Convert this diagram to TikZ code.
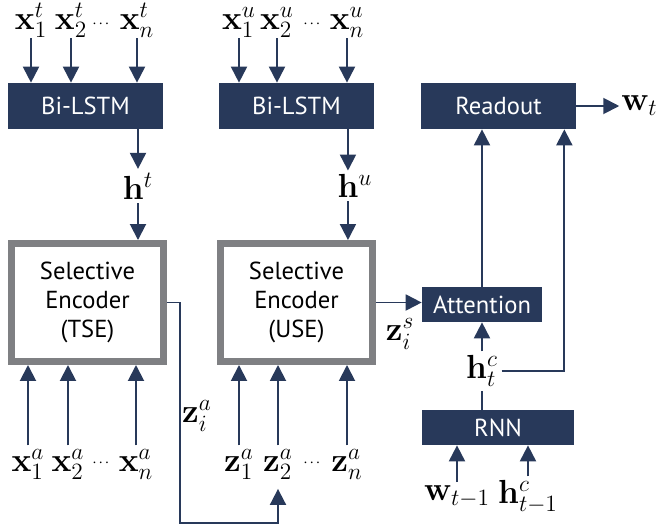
\RequirePackage{fix-cm}
\documentclass[tikz,border=0pt]{standalone}
\usepackage{amsmath}
\usepackage[no-math]{fontspec}
\setsansfont{PT Sans}
\usetikzlibrary{arrows.meta}

\definecolor{navy}{RGB}{40,57,90}
\definecolor{encgray}{RGB}{127,128,131}

\begin{document}
\begin{tikzpicture}[x=0.02cm,y=-0.02cm,
    block/.style={fill=navy,text=white,font=\sffamily\fontsize{14}{16}\selectfont,
      minimum width=3.1cm,minimum height=0.92cm,inner sep=0pt},
    enc/.style={draw=encgray,line width=0.14cm,fill=white,align=center,
      font=\sffamily\fontsize{14}{16.4}\selectfont,
      minimum width=3.04cm,minimum height=2.36cm,inner sep=0pt},
    lbl/.style={font=\fontsize{19}{22}\selectfont,inner sep=0pt},
    dots/.style={font=\fontsize{6}{7}\selectfont\boldmath,inner sep=0pt},
    arr/.style={draw=navy,line width=1.1pt,-{Triangle[length=0.32cm,width=0.32cm]}},
    ln/.style={draw=navy,line width=1.1pt}]
  \useasboundingbox (0,0) rectangle (656,525);

  \node[block] (bilT) at (85.5,106) {Bi-LSTM};
  \node[block] (bilU) at (296.5,106) {Bi-LSTM};
  \node[block] (readout) at (498.5,106) {Readout};
  \node[block,minimum width=2.4cm,minimum height=0.7cm] (attn) at (482,304.5) {Attention};
  \node[block,minimum width=3.04cm,minimum height=0.7cm] (rnn) at (498,427.5) {RNN};
  \node[enc] (tse) at (87.5,302.5) {Selective\\Encoder\\(TSE)};
  \node[enc] (use) at (296.5,302.5) {Selective\\Encoder\\(USE)};

  % inputs of the Bi-LSTMs
  \node[lbl,anchor=south] (xt1) at (31,38) {$\mathbf{x}_1^t$};
  \node[lbl,anchor=south] (xt2) at (71,38) {$\mathbf{x}_2^t$};
  \node[dots] (xtd) at (102,24) {$\cdots$};
  \node[lbl,anchor=south] (xtn) at (137,38) {$\mathbf{x}_n^t$};
  \node[lbl,anchor=south] (xu1) at (239,38) {$\mathbf{x}_1^u$};
  \node[lbl,anchor=south] (xu2) at (277,38) {$\mathbf{x}_2^u$};
  \node[dots] (xud) at (313,24) {$\cdots$};
  \node[lbl,anchor=south] (xun) at (347,38) {$\mathbf{x}_n^u$};
  \foreach \a/\b in {xt1/bilT,xt2/bilT,xtn/bilT,xu1/bilU,xu2/bilU,xun/bilU}
    \draw[arr] (\a.south) -- (\a.south |- \b.north);

  % inputs of the encoders
  \node[lbl,anchor=north] (xa1) at (28,449) {$\mathbf{x}_1^a$};
  \node[lbl,anchor=north] (xa2) at (68,449) {$\mathbf{x}_2^a$};
  \node[dots] (xad) at (102,463) {$\cdots$};
  \node[lbl,anchor=north] (xan) at (136,449) {$\mathbf{x}_n^a$};
  \node[lbl,anchor=north] (za1) at (239,449) {$\mathbf{z}_1^a$};
  \node[lbl,anchor=north] (za2) at (278,449) {$\mathbf{z}_2^a$};
  \node[dots] (zad) at (313,463) {$\cdots$};
  \node[lbl,anchor=north] (zan) at (347,449) {$\mathbf{z}_n^a$};
  \foreach \a/\b in {xa1/tse,xa2/tse,xan/tse,za1/use,za2/use,zan/use}
    \draw[arr] ([yshift=2pt]\a.north) -- (\a.north |- \b.south);

  \node[lbl] (ht) at (138,186) {$\mathbf{h}^t$};
  \node[lbl] (hu) at (355,186) {$\mathbf{h}^u$};
  \draw[arr] (ht.north |- bilT.south) -- ([yshift=2pt]ht.north);
  \draw[arr] ([yshift=-2pt]ht.south) -- (ht.south |- tse.north);
  \draw[arr] ([xshift=-4pt]hu.north |- bilU.south) -- ([xshift=-4pt,yshift=2pt]hu.north);
  \draw[arr] ([xshift=-4pt,yshift=-2pt]hu.south) -- ([xshift=-4pt]hu.south |- use.north);

  \node[lbl] (zia) at (197,416) {$\mathbf{z}_i^a$};
  \coordinate (zbend) at (180,523);
  \draw[arr] (tse.east) -| (zbend) -| ([yshift=-5pt]za2.south);

  \node[lbl] (zis) at (400,334) {$\mathbf{z}_i^s$};
  \draw[arr] (use.east) -- (use.east -| attn.west);
  \draw[arr] (attn.north) -- (attn.north |- readout.south);

  \node[lbl] (hct) at (482,371) {$\mathbf{h}_t^c$};
  \coordinate (rdin) at ([xshift=-0.24cm]readout.south east);
  \draw[ln] (rnn.north -| hct.south) -- ([yshift=-2pt]hct.south);
  \draw[arr] ([yshift=2pt]hct.north) -- (hct.north |- attn.south);
  \draw[arr] ([xshift=2pt]hct.east) -| (rdin);

  \node[lbl,anchor=west] (wt) at (621,106) {$\mathbf{w}_t$};
  \draw[arr] (readout.east) -- ([xshift=-1pt]wt.west);

  \node[lbl] (wprev) at (457,497) {$\mathbf{w}_{t-1}$};
  \node[lbl] (hprev) at (528,497) {$\mathbf{h}_{t-1}^c$};
  \draw[arr] ([yshift=2pt]wprev.north) -- (wprev.north |- rnn.south);
  \draw[arr] ([yshift=2pt]hprev.north) -- (hprev.north |- rnn.south);
\end{tikzpicture}
\end{document}
